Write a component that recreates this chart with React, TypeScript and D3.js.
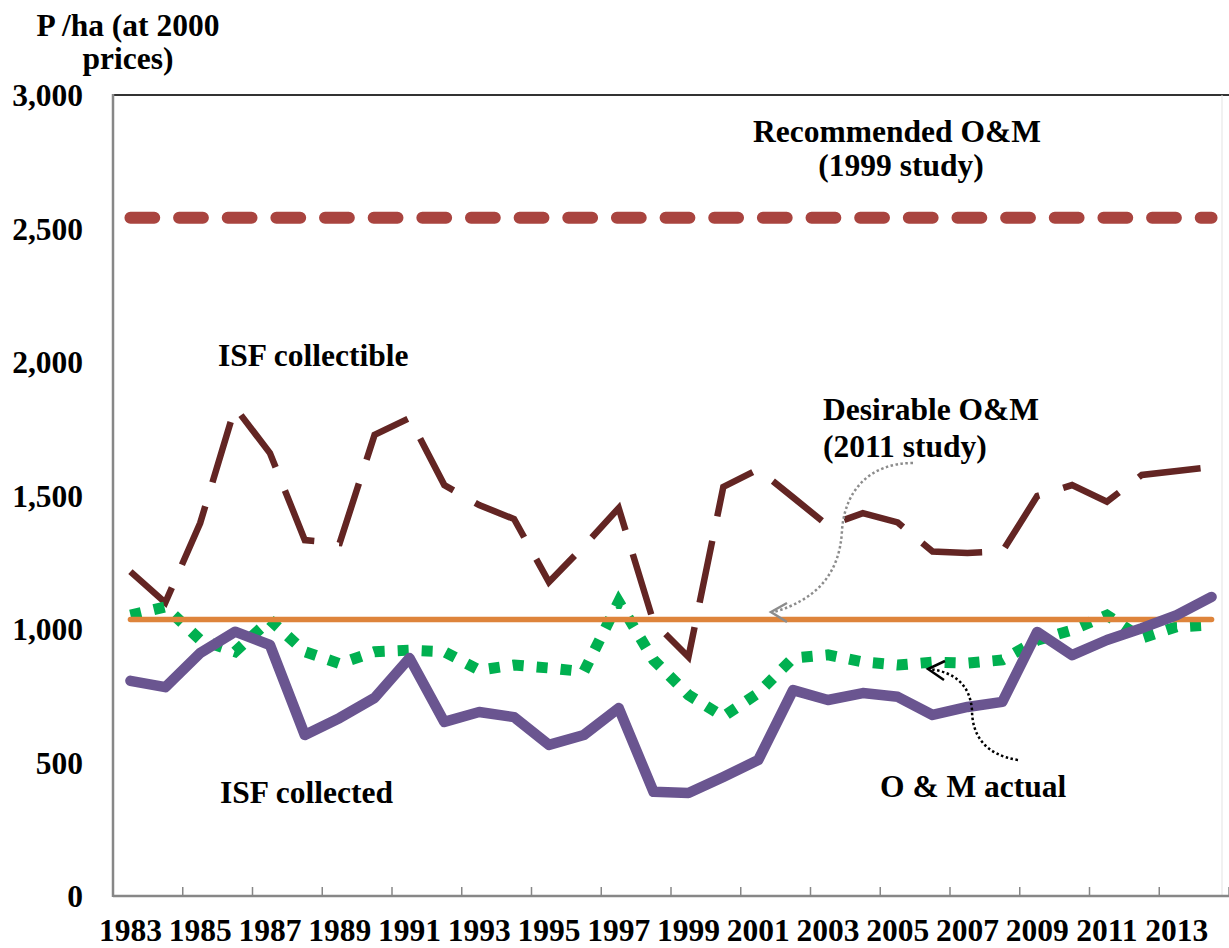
import React from "react";
import * as d3 from "d3";

const years = [
  "1983", "1984", "1985", "1986", "1987", "1988", "1989", "1990", "1991", "1992",
  "1993", "1994", "1995", "1996", "1997", "1998", "1999", "2000", "2001", "2002",
  "2003", "2004", "2005", "2006", "2007", "2008", "2009", "2010", "2011", "2012",
  "2013", "2014",
];

const isfCollected = [
  806, 782, 910, 990, 940, 603, 667, 742, 891, 652,
  689, 670, 566, 603, 704, 390, 386, 446, 509, 771,
  734, 760, 746, 678, 708, 727, 989, 902, 959, 1003,
  1052, 1120,
];

const isfCollectible = [
  1215, 1099, 1397, 1830, 1659, 1333, 1322, 1727, 1790, 1539,
  1464, 1412, 1176, 1310, 1453, 1026, 895, 1532, 1598, 1493,
  1387, 1434, 1399, 1290, 1285, 1290, 1498, 1539, 1477, 1577,
  1592, 1607,
];

const omActual = [
  1052, 1083, 959, 915, 1034, 915, 870, 915, 921, 915,
  846, 865, 854, 840, 1102, 884, 753, 672, 760, 891,
  903, 877, 865, 876, 872, 884, 958, 996, 1052, 966,
  1008, 1015,
];

const desirableOM = 1036;
const recommendedOM = 2540;

const yTicks = [0, 500, 1000, 1500, 2000, 2500, 3000];

const FONT = "'Liberation Serif', 'Times New Roman', serif";

export default function App() {
  const left = 113;
  const right = 1229;
  const top = 95;
  const bottom = 896;

  const x = d3.scaleBand<string>().domain(years).range([left, right]).padding(0);
  const y = d3.scaleLinear().domain([0, 3000]).range([bottom, top]);
  const cx = (yr: string) => (x(yr) as number) + x.bandwidth() / 2;

  const line = d3
    .line<[string, number]>()
    .x((d) => cx(d[0]))
    .y((d) => y(d[1]));

  const collectedPath = line(years.map((yr, i) => [yr, isfCollected[i]]));
  const collectiblePath = line(years.map((yr, i) => [yr, isfCollectible[i]]));
  const omPath = line(years.map((yr, i) => [yr, omActual[i]]));
  const desirablePath = line(years.map((yr) => [yr, desirableOM]));
  const recommendedPath = line(years.map((yr) => [yr, recommendedOM]));

  const fmt = d3.format(",");
  const tickBoundaries = d3.range(2, years.length + 1, 2);

  const textStyle = {
    fontFamily: FONT,
    fontWeight: 700,
    fontSize: 31.5,
    fill: "#000",
  } as const;

  return (
    <svg
      width={1229}
      height={948}
      style={{ position: "absolute", left: 0, top: 0, background: "#fff" }}
    >
      <rect x={0} y={0} width={1229} height={948} fill="#fff" />

      {/* frame */}
      <line x1={left} y1={top} x2={right} y2={top} stroke="#333" strokeWidth={1.8} />
      <line x1={1222} y1={top} x2={1222} y2={bottom} stroke="#e3e3e3" strokeWidth={1} />
      <line x1={left} y1={top - 1} x2={left} y2={bottom + 1} stroke="#878787" strokeWidth={2.5} />
      <line x1={left} y1={bottom} x2={right} y2={bottom} stroke="#878787" strokeWidth={2.5} />
      {tickBoundaries.map((b) => {
        const xx = left + b * x.bandwidth();
        return (
          <line key={b} x1={xx} y1={bottom} x2={xx} y2={bottom - 9} stroke="#878787" strokeWidth={1.5} />
        );
      })}

      {/* y tick labels */}
      {yTicks.map((t) => (
        <text key={t} x={83} y={y(t) + 11} textAnchor="end" style={textStyle}>
          {fmt(t)}
        </text>
      ))}

      {/* x tick labels */}
      {years.map((yr, i) =>
        i % 2 === 0 ? (
          <text key={yr} x={cx(yr)} y={941} textAnchor="middle" style={textStyle}>
            {yr}
          </text>
        ) : null
      )}

      {/* y axis title */}
      <text x={128} y={36} textAnchor="middle" style={textStyle}>
        P /ha (at 2000
      </text>
      <text x={128} y={69} textAnchor="middle" style={textStyle}>
        prices)
      </text>

      {/* series */}
      <path
        d={recommendedPath || ""}
        fill="none"
        stroke="#A9443F"
        strokeWidth={12}
        strokeLinecap="round"
        strokeDasharray="23.8 24.85"
      />
      <path
        d={collectiblePath || ""}
        fill="none"
        stroke="#632523"
        strokeWidth={6.5}
        strokeDasharray="63 25"
        strokeLinejoin="miter"
      />
      <path
        d={omPath || ""}
        fill="none"
        stroke="#00B050"
        strokeWidth={11}
        strokeDasharray="11 13"
      />
      <path
        d={desirablePath || ""}
        fill="none"
        stroke="#DE843B"
        strokeWidth={5.5}
        strokeLinecap="round"
      />
      <path
        d={collectedPath || ""}
        fill="none"
        stroke="#6A5590"
        strokeWidth={10.5}
        strokeLinecap="round"
        strokeLinejoin="round"
      />

      {/* annotations */}
      <text x={897} y={142} textAnchor="middle" style={textStyle}>
        Recommended O&amp;M
      </text>
      <text x={901} y={176} textAnchor="middle" style={textStyle}>
        (1999 study)
      </text>

      <text x={218} y={366} style={textStyle}>
        ISF collectible
      </text>
      <text x={220} y={803} style={textStyle}>
        ISF collected
      </text>

      <text x={823} y={420} style={textStyle}>
        Desirable O&amp;M
      </text>
      <text x={823} y={457} style={textStyle}>
        (2011 study)
      </text>

      <text x={880} y={797} style={textStyle}>
        O &amp; M actual
      </text>

      {/* grey dotted arrow to desirable line */}
      <path
        d="M913,463 C870,463 845,490 842,530 C840,575 815,600 774,612"
        fill="none"
        stroke="#8c8c8c"
        strokeWidth={2.5}
        strokeDasharray="2.5 2.5"
      />
      <path
        d="M787,603 L771,612 L787,622"
        fill="none"
        stroke="#8c8c8c"
        strokeWidth={2.5}
      />

      {/* black dotted arrow to O&M actual */}
      <path
        d="M1018,760 C985,755 972,735 972,710 C970,685 955,672 929,669"
        fill="none"
        stroke="#000"
        strokeWidth={2.5}
        strokeDasharray="2.5 2.5"
      />
      <path d="M945,661 L928,669 L944,680" fill="none" stroke="#000" strokeWidth={2.5} />
    </svg>
  );
}
